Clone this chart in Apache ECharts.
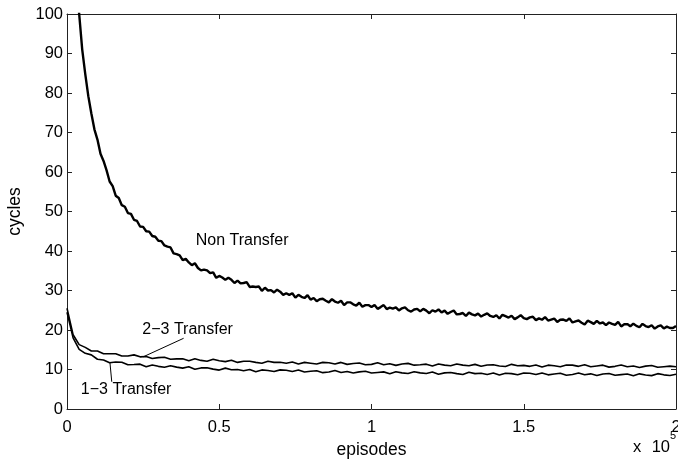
<!DOCTYPE html>
<html><head><meta charset="utf-8">
<script src="https://cdn.jsdelivr.net/npm/echarts@6/dist/echarts.min.js"></script>
<style>html,body{margin:0;padding:0;background:#fff}#c{width:678px;height:462px}</style>
</head><body><div id="c"></div>
<script>
// ---- data (cycles per episode) ----
const xTickValues = [0, 50000, 100000, 150000, 200000];
const yTickValues = [0, 10, 20, 30, 40, 50, 60, 70, 80, 90, 100];
const NT_STEP = 1000;   // episode spacing of the Non Transfer samples
const LOW_STEP = 2000;  // episode spacing of the transfer samples

const nonTransfer = [
140,127,115,107,100,91,84.8,79.2,74.8,70.8,68.2,
64.6,62.8,60.4,57.6,56.4,54.0,53.4,51.6,51.2,49.6,
49.4,47.9,47.6,46.2,46.1,45.0,44.9,43.8,43.6,42.6,
42.5,41.4,41.1,40.9,39.4,39.2,38.9,37.7,38.0,37.1,
36.4,36.9,35.7,35.1,35.3,35.1,34.4,34.6,33.2,33.7,
33.3,32.7,33.2,32.7,31.9,32.5,31.8,31.9,32.1,30.9,
31.0,30.9,31.0,29.9,30.7,30.0,30.1,29.5,30.2,29.7,
28.9,29.3,28.9,29.3,28.2,28.9,28.4,28.1,28.8,27.7,
28.1,27.3,27.8,27.9,27.4,27.0,27.8,27.2,26.9,27.4,
26.3,27.0,27.0,26.5,26.2,26.9,25.9,26.3,26.3,25.8,
26.3,25.35,25.8,26.3,25.3,25.65,25.4,25.7,24.95,25.5,
25.75,25.0,24.65,25.2,25.35,24.7,25.35,24.9,24.25,25.0,
24.65,25.2,24.45,24.9,24.1,24.55,24.95,23.95,24.05,24.3,
23.55,24.4,23.95,23.7,24.15,23.4,23.85,24.2,23.55,23.3,
23.75,22.9,23.85,23.5,23.15,23.6,22.75,23.2,23.75,23.0,
22.75,23.2,23.35,22.5,22.95,22.6,23.25,22.4,22.65,22.9,
22.05,22.6,22.65,22.3,22.95,21.9,22.2,22.4,21.85,21.4,
22.35,22.0,21.55,22.3,21.65,21.9,21.25,21.9,21.55,21.3,
22.05,20.9,21.45,21.5,20.95,21.6,21.05,20.7,21.55,21.0,
20.75,21.2,20.35,20.9,21.15,20.4,20.85,20.5,20.5,21.0
];

const transfer23 = [
25.5,18.8,16.3,15.6,14.7,14.7,14.0,14.0,14.0,13.4,13.4,
13.7,13.2,13.3,12.8,13.0,13.1,12.6,12.7,12.7,12.2,
12.7,12.3,12.1,12.6,12.2,12.0,12.35,11.8,12.1,12.1,
11.8,11.6,12.1,11.8,11.85,11.6,11.9,11.4,11.8,11.6,
11.4,11.8,11.7,11.4,11.8,11.3,11.5,11.65,11.2,11.3,
11.7,11.2,11.45,11.05,11.4,11.55,11.1,11.2,11.35,10.9,
11.4,11.1,10.95,11.4,11.1,10.95,11.3,10.8,11.15,11.2,
10.9,10.75,11.3,10.95,11.05,10.8,11.15,10.65,11.1,10.95,
10.7,11.15,11.1,10.8,11.2,10.7,10.9,11.1,10.6,10.8,
11.15,10.7,10.9,10.5,10.85,11.0,10.55,10.7,10.85,10.7
];

const transfer13 = [
24.5,18.0,15.1,14.1,13.7,12.6,12.4,11.7,11.9,11.85,11.2,
11.25,11.35,10.7,11.15,10.8,10.55,10.95,10.6,10.35,10.7,
10.05,10.4,10.45,10.1,9.85,10.35,9.95,10.0,9.7,10.0,
9.45,9.9,9.75,9.5,9.9,9.8,9.5,9.85,9.35,9.55,
9.7,9.2,9.35,9.75,9.25,9.5,9.1,9.4,9.55,9.1,
9.25,9.4,8.95,9.45,9.15,9.0,9.45,9.15,9.0,9.35,
8.8,9.15,9.25,8.95,8.75,9.3,8.95,9.05,8.75,9.1,
8.6,9.05,8.95,8.65,9.1,9.05,8.75,9.1,8.65,8.85,
9.05,8.55,8.75,9.1,8.65,8.9,8.5,8.85,9.0,8.55,
8.7,8.85,8.4,8.9,8.6,8.45,8.95,8.65,8.5,8.8
];

const seriesNames = ['Non Transfer', '2\u22123 Transfer', '1\u22123 Transfer'];
// annotation anchors in data space: [episodes, cycles]
const noteNonTransfer = [57500, 42.7];
const note23 = [39600, 20.0];
const note23Leader = [[38300, 17.9], [25000, 13.2]];
const note13 = [19400, 5.0];
const note13Leader = [[14700, 6.9], [14100, 11.8]];

// ---- chart ----
const FONT = 'Liberation Sans, Arial, Helvetica, sans-serif';
const toPairs = (arr, step) => arr.map((v, i) => [i * step, v]);

const chart = echarts.init(document.getElementById('c'), null, {renderer: 'canvas'});
const axisCommon = {
  type: 'value',
  axisLine: {show: true, onZero: false, lineStyle: {color: '#222', width: 1}},
  axisTick: {show: true, inside: true, length: 5, lineStyle: {color: '#222', width: 1}},
  splitLine: {show: false}
};
const lineSeries = (name, data, w) => ({
  name, type: 'line', data, showSymbol: false, symbol: 'none',
  lineStyle: {color: '#000', width: w}, clip: true, animation: false
});

chart.setOption({
  animation: false,
  backgroundColor: '#fff',
  grid: {left: 67, right: 2, top: 14, bottom: 53, containLabel: false, outerBoundsMode: 'none'},
  xAxis: [
    Object.assign({}, axisCommon, {
      position: 'bottom', min: 0, max: 200000, interval: 50000,
      axisLabel: {color: '#000', fontSize: 16.5, fontFamily: FONT, margin: 10,
        formatter: v => String(v / 1e5)},
      name: 'episodes', nameLocation: 'middle', nameGap: 23,
      nameTextStyle: {color: '#000', fontSize: 17.5, fontFamily: FONT}
    }),
    Object.assign({}, axisCommon, {
      position: 'top', min: 0, max: 200000, interval: 50000,
      axisLabel: {show: false}
    })
  ],
  yAxis: [
    Object.assign({}, axisCommon, {
      position: 'left', min: 0, max: 100, interval: 10,
      axisLabel: {color: '#000', fontSize: 16.5, fontFamily: FONT, margin: 4},
      name: 'cycles', nameLocation: 'middle', nameGap: 41,
      nameTextStyle: {color: '#000', fontSize: 17.5, fontFamily: FONT}
    }),
    Object.assign({}, axisCommon, {
      position: 'right', min: 0, max: 100, interval: 10,
      axisLabel: {show: false}
    })
  ],
  series: [
    lineSeries(seriesNames[0], toPairs(nonTransfer, NT_STEP), 2.4),
    lineSeries(seriesNames[1], toPairs(transfer23, LOW_STEP), 1.6),
    lineSeries(seriesNames[2], toPairs(transfer13, LOW_STEP), 1.6)
  ]
});

const px = p => chart.convertToPixel({xAxisIndex: 0, yAxisIndex: 0}, p);
const textEl = (p, str, size) => {
  const q = px(p);
  return {type: 'text', x: q[0], y: q[1], z: 10,
    style: {text: str, fill: '#000', font: size + 'px ' + FONT, align: 'center', verticalAlign: 'middle'}};
};
const lineEl = seg => {
  const a = px(seg[0]), b = px(seg[1]);
  return {type: 'line', z: 10, shape: {x1: a[0], y1: a[1], x2: b[0], y2: b[1]},
    style: {stroke: '#000', lineWidth: 1}};
};
chart.setOption({
  graphic: [
    textEl(noteNonTransfer, seriesNames[0], 16),
    textEl(note23, seriesNames[1], 16),
    lineEl(note23Leader),
    textEl(note13, seriesNames[2], 16),
    lineEl(note13Leader),
    {type: 'text', left: 633, top: 439, style: {text: 'x', fill: '#000', font: '16.5px ' + FONT}},
    {type: 'text', right: 8, top: 439, style: {text: '10', fill: '#000', font: '16.5px ' + FONT}},
    {type: 'text', left: 670, top: 430, style: {text: '5', fill: '#000', font: '11px ' + FONT}}
  ]
});
</script>
</body></html>
